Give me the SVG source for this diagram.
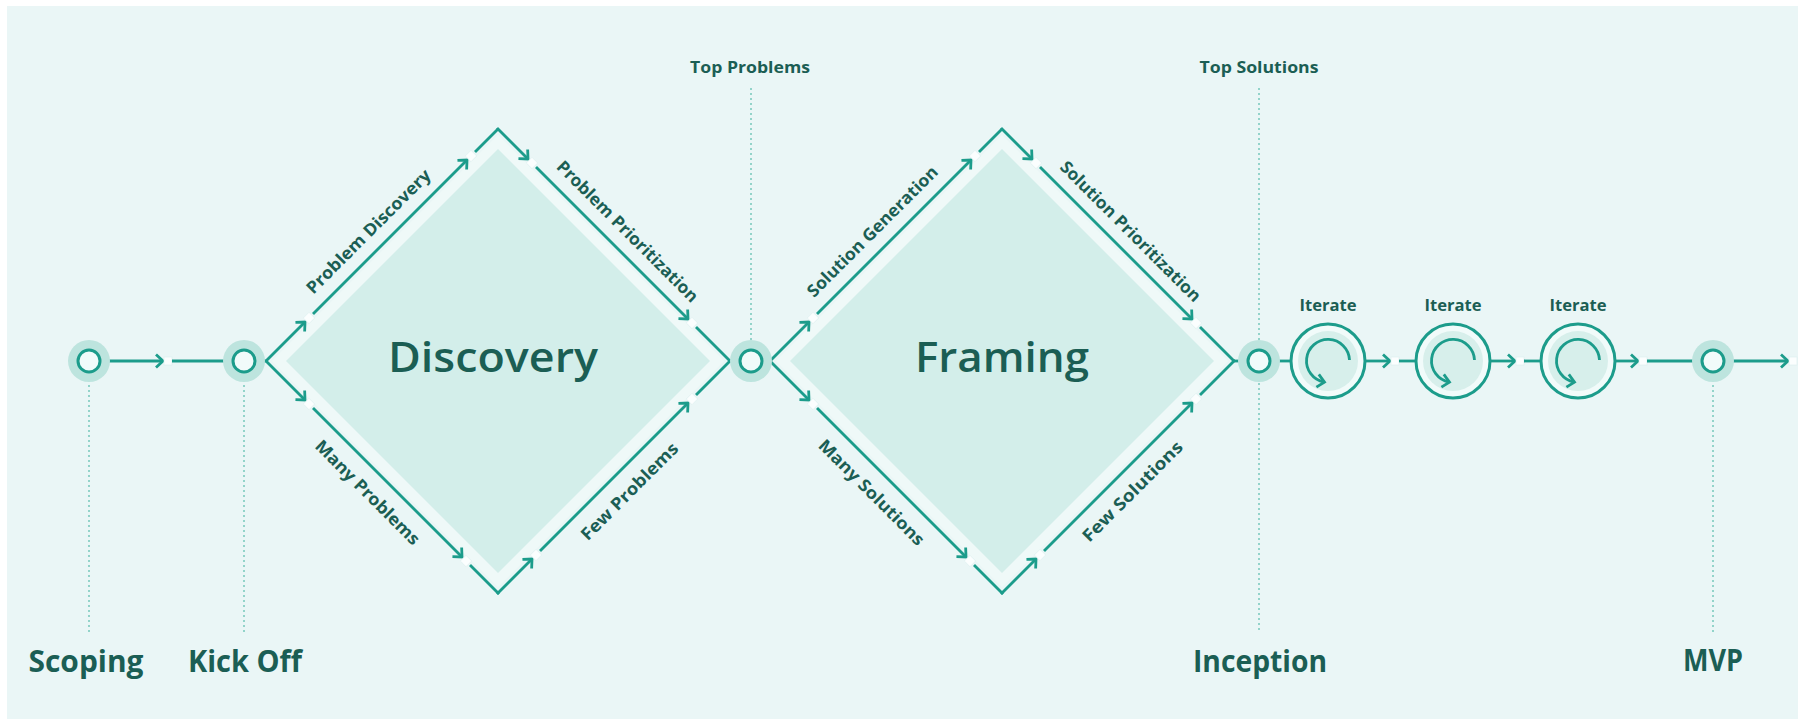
<svg xmlns="http://www.w3.org/2000/svg" width="1798" height="719" viewBox="0 0 1798 719">
<defs>
<style>
.bg{fill:#eaf6f6}
.ln{stroke:#1c9c8b;stroke-width:2.8;fill:none;stroke-linecap:butt}
.ln.m{marker-end:url(#arr)}
.gap{fill:#fbfefe;stroke:#dbeeed;stroke-width:0.6}
.dot{stroke:#7dcbbf;stroke-width:1.6;stroke-dasharray:2 3;fill:none}
.halo{fill:#bde4de}
.nc{fill:#f1fbfa;stroke:#1c9c8b;stroke-width:3}
.band{fill:#eff9f8}
.dfill{fill:#d3eeea}
.itO{fill:#f1fbfa;stroke:#1c9c8b;stroke-width:3}
.itI{fill:#d7efeb}
.arc{stroke:#1c9c8b;stroke-width:2.8;fill:none;marker-end:url(#arr2)}
.t{font-family:"Open Sans","Liberation Sans",sans-serif;font-weight:700;fill:#1b5e54}
.big{font-size:42px;font-weight:600}
.ms{font-size:30px}
.sm{font-size:16px}
.ed{font-size:17px}
</style>
<marker id="arr" markerUnits="userSpaceOnUse" markerWidth="12" markerHeight="14" refX="0" refY="0" orient="auto" overflow="visible">
<path d="M-7,-6.5 L0,0 L-7,6.5" fill="none" stroke="#1c9c8b" stroke-width="2.8" stroke-linejoin="miter"/>
</marker>
<marker id="arr2" markerUnits="userSpaceOnUse" markerWidth="12" markerHeight="14" refX="0" refY="0" orient="auto" overflow="visible">
<path d="M-6.5,-6.5 L0.5,0 L-6.5,6.5" fill="none" stroke="#1c9c8b" stroke-width="2.8"/>
</marker>
</defs>

<rect x="0" y="0" width="1798" height="719" fill="#ffffff"/>
<rect class="bg" x="7" y="6" width="1791" height="713"/>

<g id="diamond-discovery">
<polygon class="band" points="498,135 724,361 498,587 272,361"/>
<polygon class="dfill" points="498,149 710,361 498,573 286,361"/>
<text class="t big" x="493" y="372" text-anchor="middle" textLength="210" lengthAdjust="spacingAndGlyphs">Discovery</text>
</g>
<g id="diamond-framing">
<polygon class="band" points="1002,135 1228,361 1002,587 776,361"/>
<polygon class="dfill" points="1002,149 1214,361 1002,573 790,361"/>
<text class="t big" x="1002" y="372" text-anchor="middle" textLength="174" lengthAdjust="spacingAndGlyphs">Framing</text>
</g>

<g id="guides">
<line class="dot" x1="89" y1="385" x2="89" y2="633"/>
<line class="dot" x1="244" y1="385" x2="244" y2="633"/>
<line class="dot" x1="751" y1="88" x2="751" y2="340"/>
<line class="dot" x1="1259" y1="88" x2="1259" y2="633"/>
<line class="dot" x1="1713" y1="385" x2="1713" y2="633"/>
</g>

<g id="connectors">
<line class="ln m" x1="101" y1="361" x2="163" y2="361"/>
<rect class="gap" x="164" y="357" width="8" height="8"/>
<line class="ln" x1="172" y1="361" x2="232" y2="361"/>
<line class="ln" x1="256" y1="361" x2="267" y2="361"/>
<line class="ln" x1="729" y1="361" x2="740" y2="361"/>
<line class="ln" x1="762" y1="361" x2="771" y2="361"/>
<line class="ln" x1="1233" y1="361" x2="1248" y2="361"/>
<line class="ln" x1="1270" y1="361" x2="1291" y2="361"/>
<line class="ln m" x1="1365" y1="361" x2="1390" y2="361"/>
<rect class="gap" x="1391" y="357" width="8" height="8"/>
<line class="ln" x1="1399" y1="361" x2="1416" y2="361"/>
<line class="ln m" x1="1490" y1="361" x2="1515" y2="361"/>
<rect class="gap" x="1516" y="357" width="8" height="8"/>
<line class="ln" x1="1524" y1="361" x2="1541" y2="361"/>
<line class="ln m" x1="1615" y1="361" x2="1638" y2="361"/>
<rect class="gap" x="1639" y="357" width="8" height="8"/>
<line class="ln" x1="1647" y1="361" x2="1702" y2="361"/>
<line class="ln m" x1="1724" y1="361" x2="1788" y2="361"/>
<rect class="gap" x="1789" y="357" width="8" height="8"/>

<line class="ln m" x1="266" y1="361" x2="305" y2="322"/>
<rect class="gap" x="-4" y="-4" width="8" height="8" transform="translate(309 318) rotate(45)"/>
<line class="ln m" x1="313" y1="314" x2="467" y2="160"/>
<rect class="gap" x="-4" y="-4" width="8" height="8" transform="translate(471 156) rotate(45)"/>
<line class="ln" x1="475" y1="152" x2="498" y2="129"/>

<line class="ln m" x1="497" y1="128" x2="528" y2="159"/>
<rect class="gap" x="-4" y="-4" width="8" height="8" transform="translate(532 163) rotate(45)"/>
<line class="ln m" x1="536" y1="167" x2="688" y2="319"/>
<rect class="gap" x="-4" y="-4" width="8" height="8" transform="translate(692 323) rotate(45)"/>
<line class="ln" x1="696" y1="327" x2="730" y2="361"/>

<line class="ln m" x1="266" y1="361" x2="305" y2="400"/>
<rect class="gap" x="-4" y="-4" width="8" height="8" transform="translate(309 404) rotate(45)"/>
<line class="ln m" x1="313" y1="408" x2="462" y2="557"/>
<rect class="gap" x="-4" y="-4" width="8" height="8" transform="translate(466 561) rotate(45)"/>
<line class="ln" x1="470" y1="565" x2="499" y2="594"/>

<line class="ln m" x1="497" y1="594" x2="532" y2="559"/>
<rect class="gap" x="-4" y="-4" width="8" height="8" transform="translate(536 555) rotate(45)"/>
<line class="ln m" x1="540" y1="551" x2="688" y2="403"/>
<rect class="gap" x="-4" y="-4" width="8" height="8" transform="translate(692 399) rotate(45)"/>
<line class="ln" x1="696" y1="395" x2="731" y2="360"/>

<line class="ln m" x1="770" y1="361" x2="809" y2="322"/>
<rect class="gap" x="-4" y="-4" width="8" height="8" transform="translate(813 318) rotate(45)"/>
<line class="ln m" x1="817" y1="314" x2="971" y2="160"/>
<rect class="gap" x="-4" y="-4" width="8" height="8" transform="translate(975 156) rotate(45)"/>
<line class="ln" x1="979" y1="152" x2="1002" y2="129"/>

<line class="ln m" x1="1001" y1="128" x2="1032" y2="159"/>
<rect class="gap" x="-4" y="-4" width="8" height="8" transform="translate(1036 163) rotate(45)"/>
<line class="ln m" x1="1040" y1="167" x2="1192" y2="319"/>
<rect class="gap" x="-4" y="-4" width="8" height="8" transform="translate(1196 323) rotate(45)"/>
<line class="ln" x1="1200" y1="327" x2="1234" y2="361"/>

<line class="ln m" x1="770" y1="361" x2="809" y2="400"/>
<rect class="gap" x="-4" y="-4" width="8" height="8" transform="translate(813 404) rotate(45)"/>
<line class="ln m" x1="817" y1="408" x2="966" y2="557"/>
<rect class="gap" x="-4" y="-4" width="8" height="8" transform="translate(970 561) rotate(45)"/>
<line class="ln" x1="974" y1="565" x2="1003" y2="594"/>

<line class="ln m" x1="1001" y1="594" x2="1036" y2="559"/>
<rect class="gap" x="-4" y="-4" width="8" height="8" transform="translate(1040 555) rotate(45)"/>
<line class="ln m" x1="1044" y1="551" x2="1192" y2="403"/>
<rect class="gap" x="-4" y="-4" width="8" height="8" transform="translate(1196 399) rotate(45)"/>
<line class="ln" x1="1200" y1="395" x2="1235" y2="360"/>
</g>

<g id="edge-labels">
<text class="t ed" text-anchor="middle" dominant-baseline="central" transform="translate(368 231) rotate(-45)" textLength="168" lengthAdjust="spacingAndGlyphs">Problem Discovery</text>
<text class="t ed" text-anchor="middle" dominant-baseline="central" transform="translate(628 231) rotate(45)" textLength="192" lengthAdjust="spacingAndGlyphs">Problem Prioritization</text>
<text class="t ed" text-anchor="middle" dominant-baseline="central" transform="translate(368 492) rotate(45)" textLength="140" lengthAdjust="spacingAndGlyphs">Many Problems</text>
<text class="t ed" text-anchor="middle" dominant-baseline="central" transform="translate(629 491) rotate(-45)" textLength="130" lengthAdjust="spacingAndGlyphs">Few Problems</text>
<text class="t ed" text-anchor="middle" dominant-baseline="central" transform="translate(872 231) rotate(-45)" textLength="177" lengthAdjust="spacingAndGlyphs">Solution Generation</text>
<text class="t ed" text-anchor="middle" dominant-baseline="central" transform="translate(1131 231) rotate(45)" textLength="191" lengthAdjust="spacingAndGlyphs">Solution Prioritization</text>
<text class="t ed" text-anchor="middle" dominant-baseline="central" transform="translate(872 492) rotate(45)" textLength="142" lengthAdjust="spacingAndGlyphs">Many Solutions</text>
<text class="t ed" text-anchor="middle" dominant-baseline="central" transform="translate(1132 491) rotate(-45)" textLength="134" lengthAdjust="spacingAndGlyphs">Few Solutions</text>
</g>

<g id="node-scoping">
<circle class="halo" cx="89" cy="361" r="21"/>
<circle class="nc" cx="89" cy="361" r="11"/>
<text class="t ms" x="86" y="672" text-anchor="middle" textLength="115" lengthAdjust="spacingAndGlyphs">Scoping</text>
</g>
<g id="node-kickoff">
<circle class="halo" cx="244" cy="361" r="21"/>
<circle class="nc" cx="244" cy="361" r="11"/>
<text class="t ms" x="245" y="672" text-anchor="middle" textLength="114" lengthAdjust="spacingAndGlyphs">Kick Off</text>
</g>
<g id="node-top-problems">
<circle class="halo" cx="751" cy="361" r="21"/>
<circle class="nc" cx="751" cy="361" r="11"/>
<text class="t sm" x="750" y="73" text-anchor="middle" textLength="120" lengthAdjust="spacingAndGlyphs">Top Problems</text>
</g>
<g id="node-inception">
<circle class="halo" cx="1259" cy="361" r="21"/>
<circle class="nc" cx="1259" cy="361" r="11"/>
<text class="t sm" x="1259" y="73" text-anchor="middle" textLength="119" lengthAdjust="spacingAndGlyphs">Top Solutions</text>
<text class="t ms" x="1260" y="672" text-anchor="middle" textLength="134" lengthAdjust="spacingAndGlyphs">Inception</text>
</g>
<g id="node-iterate-1">
<circle class="itO" cx="1328" cy="361" r="37"/>
<circle class="itI" cx="1328" cy="361" r="30"/>
<path class="arc" d="M1349.5,360 A21.5,21.5 0 1 0 1324,382"/>
<text class="t sm" x="1328" y="311" text-anchor="middle" textLength="57" lengthAdjust="spacingAndGlyphs">Iterate</text>
</g>
<g id="node-iterate-2">
<circle class="itO" cx="1453" cy="361" r="37"/>
<circle class="itI" cx="1453" cy="361" r="30"/>
<path class="arc" d="M1474.5,360 A21.5,21.5 0 1 0 1449,382"/>
<text class="t sm" x="1453" y="311" text-anchor="middle" textLength="57" lengthAdjust="spacingAndGlyphs">Iterate</text>
</g>
<g id="node-iterate-3">
<circle class="itO" cx="1578" cy="361" r="37"/>
<circle class="itI" cx="1578" cy="361" r="30"/>
<path class="arc" d="M1599.5,360 A21.5,21.5 0 1 0 1574,382"/>
<text class="t sm" x="1578" y="311" text-anchor="middle" textLength="57" lengthAdjust="spacingAndGlyphs">Iterate</text>
</g>
<g id="node-mvp">
<circle class="halo" cx="1713" cy="361" r="21"/>
<circle class="nc" cx="1713" cy="361" r="11"/>
<text class="t ms" x="1713" y="671" text-anchor="middle" textLength="60" lengthAdjust="spacingAndGlyphs">MVP</text>
</g>
</svg>
